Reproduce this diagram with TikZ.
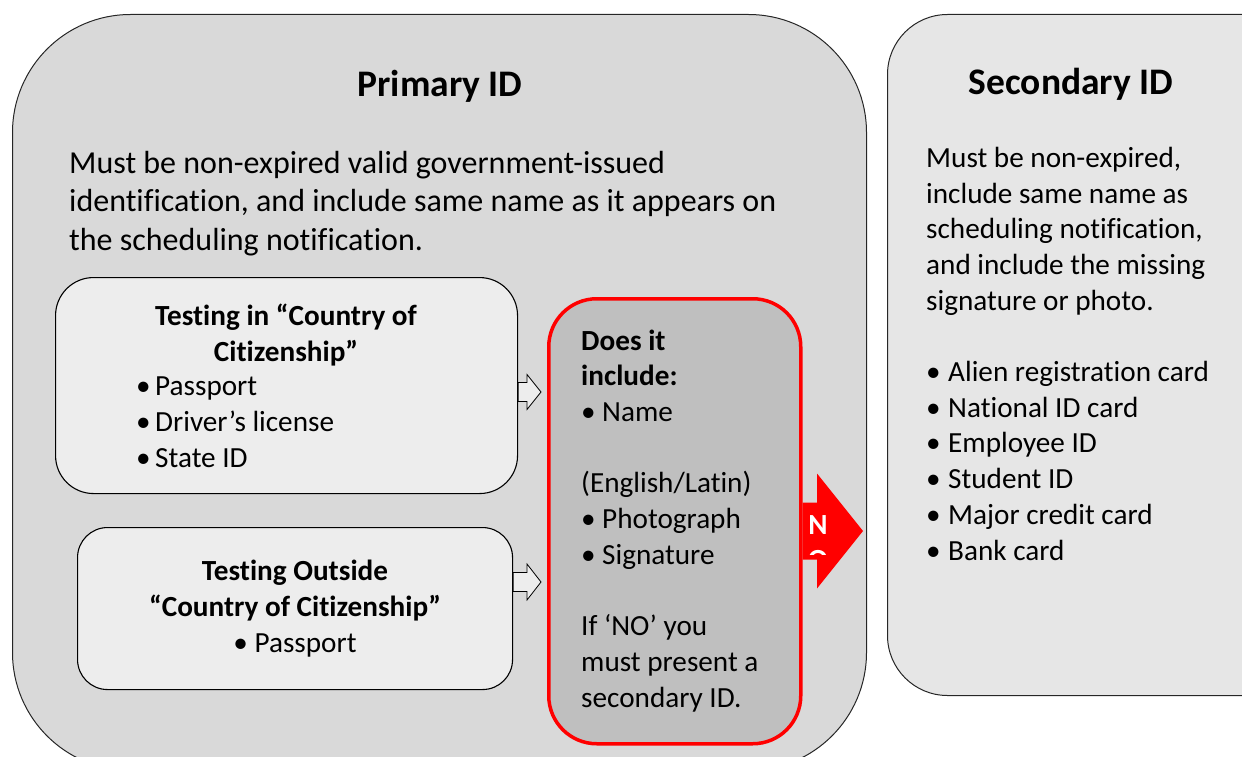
\documentclass[tikz,border=0pt]{standalone}
\usepackage{fontspec}
\setmainfont{Carlito}[Ligatures={TeX,NoCommon}]
\usepackage{xcolor}
\definecolor{panelgray}{RGB}{217, 217, 217}
\definecolor{sidegray}{RGB}{230, 230, 230}
\definecolor{cardgray}{RGB}{237, 237, 237}
\definecolor{checkgray}{RGB}{191, 191, 191}
\definecolor{alertred}{RGB}{255, 0, 0}
\usepackage{tikz}
\usetikzlibrary{calc, positioning}

\newcommand{\itembullet}[1]{\makebox[#1][l]{•}}

\begin{document}
\begin{tikzpicture}[x=1pt, y=-1pt,
    panel/.style={draw=black!85, line width=1pt, anchor=north west, inner sep=0pt},
    card/.style={draw=black, line width=1.1pt, fill=cardgray, anchor=north west, inner sep=0pt},
    heading/.style={font=\bfseries\fontsize{37.5}{44}\selectfont, anchor=base, inner sep=0pt},
    bigtext/.style={font=\fontsize{32}{38.5}\selectfont, align=left, anchor=base west, inner sep=0pt},
    cardtext/.style={font=\fontsize{29.2}{35.7}\selectfont, align=left, anchor=base west, inner sep=0pt},
    blockarrow/.style n args={3}{to path={
        let \p1=(\tikztostart), \p2=(\tikztotarget) in
        (\x1,\y1+#1) -- (\x2-#3,\y1+#1) -- (\x2-#3,\y1+#2) -- (\x2,\y1)
        -- (\x2-#3,\y1-#2) -- (\x2-#3,\y1-#1) -- (\x1,\y1-#1) -- cycle}},
]
    \useasboundingbox (0,0) rectangle (1242,757);
    \clip (0,0) rectangle (1242,757);

    \node[panel, fill=panelgray, rounded corners=118pt, minimum width=854pt, minimum height=756pt] (primary) at (12,14) {};
    \node[panel, fill=sidegray, rounded corners=60pt, minimum width=430pt, minimum height=681pt] (secondary) at (887,14) {};

    \node[card, rounded corners=38pt, minimum width=462pt, minimum height=216pt] (incountry) at (55,277) {};
    \node[card, rounded corners=30pt, minimum width=435pt, minimum height=162pt] (outside) at (77,527) {};
    \node[card, draw=alertred, line width=3.5pt, fill=checkgray, rounded corners=48pt, minimum width=252pt, minimum height=445pt] (check) at (547,297) {};

    % multi-line nodes sit on the baseline of their last line
    \node[heading] (primarytitle) at (440,97) {Primary ID};
    \node[heading] (secondarytitle) at (1071,95) {Secondary ID};

    \node[bigtext] (primarytext) at (69,250)
        {Must be non-expired valid government-issued\\
         identification, and include same name as it appears on\\
         the scheduling notification.};
    \node[cardtext] (secondarytext) at (926,560)
        {Must be non-expired,\\ include same name as\\ scheduling notification,\\
         and include the missing\\ signature or photo.\\[35.7pt]
         \itembullet{22pt}Alien registration card\\ \itembullet{22pt}National ID card\\
         \itembullet{22pt}Employee ID\\ \itembullet{22pt}Student ID\\
         \itembullet{22pt}Major credit card\\ \itembullet{22pt}Bank card};

    \node[cardtext, anchor=base, align=center, font=\bfseries\fontsize{29.2}{35.7}\selectfont] (incountrytitle) at (286,361)
        {Testing in “Country of\\ Citizenship”};
    \node[cardtext] (incountrylist) at (136,467)
        {\itembullet{19pt}Passport\\ \itembullet{19pt}Driver’s license\\ \itembullet{19pt}State ID};

    \node[cardtext, anchor=base, align=center] (outsidetext) at (295,652)
        {\textbf{Testing Outside}\\ \textbf{“Country of Citizenship”}\\ • Passport};

    \node[cardtext] (checktext) at (581,707)
        {\textbf{Does it}\\ \textbf{include:}\\ \itembullet{21pt}Name\\[35.7pt]
         (English/Latin)\\ \itembullet{21pt}Photograph\\ \itembullet{21pt}Signature\\[35.7pt]
         If ‘NO’ you\\ must present a\\ secondary ID.};

    \draw[line width=0.8pt, fill=cardgray] (incountry.east |- 0,392) to[blockarrow={9.5pt}{17.5pt}{14pt}] ($(check.west |- 0,392)+(-6,0)$);
    \draw[line width=0.8pt, fill=cardgray] (outside.east |- 0,582) to[blockarrow={9.5pt}{18pt}{14pt}] ($(check.west |- 0,582)+(-6,0)$);

    \coordinate (notip) at (863,531);
    \fill[alertred] (check.east |- notip) to[blockarrow={28.5pt}{57.5pt}{46pt}] (notip);
    \begin{scope}
        \clip (800,500) rectangle (845,554);
        \node[white, font=\bfseries\fontsize{29.2}{35.7}\selectfont, align=center, anchor=north, inner sep=0pt] (nolabel) at (818,515) {N\\O};
    \end{scope}
\end{tikzpicture}
\end{document}
